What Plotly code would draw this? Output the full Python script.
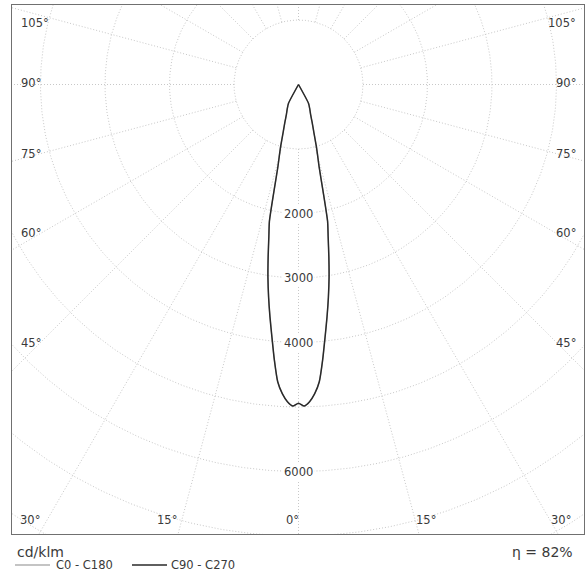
import numpy as np
import plotly.graph_objects as go

# ---------------- data ----------------
gamma_deg = [0, 1, 2, 3, 4, 5, 6, 7, 8, 9, 10, 11, 12, 13, 14, 15, 16, 18, 20, 22, 25, 28,
             30, 45, 60, 75, 90, 105, 120, 135, 150, 165, 180]
c90_c270 = [4940, 4985, 4920, 4800, 4620, 4290, 3940, 3630, 3330, 3030, 2710, 2410, 2170,
            1680, 1330, 1150, 1010, 760, 610, 500, 410, 330,
            0, 0, 0, 0, 0, 0, 0, 0, 0, 0, 0]
c0_c180 = [4940, 4985, 4920, 4800, 4620, 4290, 3940, 3630, 3330, 3030, 2710, 2410, 2170,
           1680, 1330, 1150, 1010, 760, 610, 500, 410, 330,
           0, 0, 0, 0, 0, 0, 0, 0, 0, 0, 0]
ring_values = [1000, 2000, 3000, 4000, 5000, 6000, 7000, 8000]
ring_label_values = [2000, 3000, 4000, 6000]
ring_labels = ["2000", "3000", "4000", "6000"]
spoke_angles = list(range(0, 360, 15))
side_angle_labels = ["105°", "90°", "75°", "60°", "45°"]
bottom_angle_labels = ["30°", "15°", "0°", "15°", "30°"]
unit_label = "cd/klm"
efficiency_label = "η = 82%"
series_names = ["C0 - C180", "C90 - C270"]
series_colors = ["#b0b0b0", "#2a2a2a"]

# ---------------- helpers ----------------
FONT = "DejaVu Sans"
TXT = "#3a3a3a"
GRID = "#c8c8c8"
GRID_DASH = "1px,2px"
W, H = 588, 575
L, R, T, B = 12, 4, 5, 41          # margins (px)
PW, PH = W - L - R, H - T - B      # plot area size


def to_xy(angles_deg, radii):
    a = np.radians(np.asarray(angles_deg, dtype=float))
    r = np.asarray(radii, dtype=float)
    return r * np.sin(a), -r * np.cos(a)


def mirrored(angles, values):
    ang = [-a for a in angles[:0:-1]] + list(angles)
    val = list(values[:0:-1]) + list(values)
    return ang, val


def px(xp):  # pixel x -> paper
    return (xp - L) / PW


def py(yp):  # pixel y -> paper
    return (H - B - yp) / PH


fig = go.Figure()

# grid rings
theta = np.linspace(0, 360, 721)
for rv in ring_values:
    gx, gy = to_xy(theta, np.full_like(theta, rv))
    fig.add_trace(go.Scatter(x=gx, y=gy, mode="lines", showlegend=False, hoverinfo="skip",
                             line=dict(color=GRID, width=1, dash=GRID_DASH)))
# grid spokes
for sa in spoke_angles:
    sx, sy = to_xy([sa, sa], [ring_values[0], 12000])
    fig.add_trace(go.Scatter(x=sx, y=sy, mode="lines", showlegend=False, hoverinfo="skip",
                             line=dict(color=GRID, width=1, dash=GRID_DASH)))

# curves
widths = [1.2, 1.5]
for name, vals, col, wd in zip(series_names, [c0_c180, c90_c270], series_colors, widths):
    ang, val = mirrored(gamma_deg, vals)
    cx, cy = to_xy(ang, val)
    fig.add_trace(go.Scatter(x=cx, y=cy, mode="lines", name=name, showlegend=False,
                             line=dict(color=col, width=wd, shape="spline", smoothing=0.6)))

# ring labels
for rv, lab in zip(ring_label_values, ring_labels):
    lx, ly = to_xy([0], [rv])
    fig.add_annotation(x=lx[0], y=ly[0], text=lab, showarrow=False, xanchor="center",
                       yanchor="middle", bgcolor="white", borderpad=1,
                       font=dict(family=FONT, size=11.5, color=TXT))

# angle labels on the sides
side_y = [22.7, 83.3, 154.3, 233.3, 343.3]
for lab, yy in zip(side_angle_labels, side_y):
    fig.add_annotation(x=px(19), y=py(yy), xref="paper", yref="paper", text=lab,
                       showarrow=False, xanchor="left", yanchor="middle",
                       font=dict(family=FONT, size=11.5, color=TXT))
    fig.add_annotation(x=px(578), y=py(yy), xref="paper", yref="paper", text=lab,
                       showarrow=False, xanchor="right", yanchor="middle",
                       font=dict(family=FONT, size=11.5, color=TXT))
# angle labels at the bottom
bottom_x = [30.3, 167, 292.5, 425.5, 561]
for lab, xx in zip(bottom_angle_labels, bottom_x):
    fig.add_annotation(x=px(xx), y=py(520), xref="paper", yref="paper", text=lab,
                       showarrow=False, xanchor="center", yanchor="middle",
                       font=dict(family=FONT, size=11.5, color=TXT))

# unit + efficiency
fig.add_annotation(x=px(15), y=py(551.5), xref="paper", yref="paper", text=unit_label,
                   showarrow=False, xanchor="left", yanchor="middle",
                   font=dict(family=FONT, size=14, color=TXT))
fig.add_annotation(x=px(575), y=py(551.5), xref="paper", yref="paper", text=efficiency_label,
                   showarrow=False, xanchor="right", yanchor="middle",
                   font=dict(family=FONT, size=14, color=TXT))

# legend (line samples + names)
leg_line_x = [(15, 50), (132, 167)]
leg_text_x = [54, 169]
for (x0, x1), tx, name, col in zip(leg_line_x, leg_text_x, series_names, series_colors):
    fig.add_shape(type="line", xref="paper", yref="paper", x0=px(x0), x1=px(x1),
                  y0=py(565), y1=py(565), line=dict(color=col, width=1.3))
    fig.add_annotation(x=px(tx), y=py(565), xref="paper", yref="paper", text=name,
                       showarrow=False, xanchor="left", yanchor="middle",
                       font=dict(family=FONT, size=11.5, color=TXT))

units_per_px = 1000 / 64.5
cx0, cy0 = 298.5, 84.5
x_range = [(L - cx0) * units_per_px, (W - R - cx0) * units_per_px]
y_range = [-(H - B - cy0) * units_per_px, (cy0 - T) * units_per_px]

fig.update_layout(
    width=W, height=H, autosize=False,
    margin=dict(l=L, r=R, t=T, b=B, pad=0, autoexpand=False),
    paper_bgcolor="white", plot_bgcolor="white",
    font=dict(family=FONT, color=TXT),
    xaxis=dict(range=x_range, showgrid=False, zeroline=False, showticklabels=False,
               ticks="", showline=True, mirror=True, linecolor="#707070", linewidth=1,
               fixedrange=True),
    yaxis=dict(range=y_range, showgrid=False, zeroline=False, showticklabels=False,
               ticks="", showline=True, mirror=True, linecolor="#707070", linewidth=1,
               fixedrange=True),
    showlegend=False,
)

fig.write_html("out.html", config={"displayModeBar": False},
               post_script="document.body.style.margin='0';document.body.style.overflow='hidden';")
